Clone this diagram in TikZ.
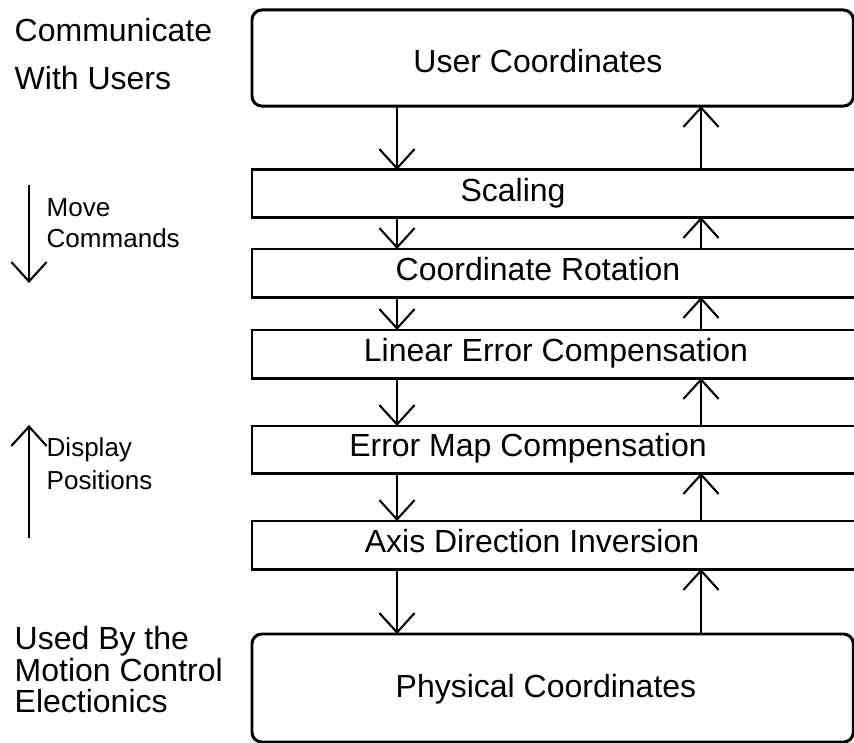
\documentclass[tikz,border=0pt]{standalone}
\usepackage{fontspec}
\setmainfont{Liberation Sans}
\usetikzlibrary{positioning,arrows.meta}

\begin{document}
\begin{tikzpicture}[x=0.01cm, y=-0.01cm,
    stage/.style={draw, line width=0.85pt, inner sep=0pt, outer sep=0pt,
                  anchor=north west, minimum width=6.06cm},
    endstage/.style={stage, rounded corners=2.8pt, minimum width=6.01cm},
    flow/.style={line width=0.6pt, -{Straight Barb[length=5.5pt, width=10pt]}},
    boxtext/.style={font=\fontsize{9.1}{11}\selectfont, inner sep=0pt, anchor=base},
    sidetext/.style={boxtext, anchor=base west},
    notetext/.style={sidetext, font=\fontsize{7.4}{9}\selectfont}]
  \useasboundingbox (0,0) rectangle (854,743);

  % transformation stages, top to bottom
  \node[endstage, minimum height=0.96cm] (user) at (252,10) {};
  \node[stage, minimum height=0.47cm] (scaling) at (252,170) {};
  \node[stage, minimum height=0.48cm] (rotation) at (252,249) {};
  \node[stage, minimum height=0.48cm] (linear) at (252,330) {};
  \node[stage, minimum height=0.47cm] (errmap) at (252,426) {};
  \node[stage, minimum height=0.48cm] (axisdir) at (252,521) {};
  \node[endstage, minimum height=1.08cm] (physical) at (252,634) {};

  \node[boxtext] (usertxt) at (538,73) {User Coordinates};
  \node[boxtext] (scalingtxt) at (513,202) {Scaling};
  \node[boxtext] (rotationtxt) at (538,281) {Coordinate Rotation};
  \node[boxtext] (lineartxt) at (556,362) {Linear Error Compensation};
  \node[boxtext] (errmaptxt) at (528,457) {Error Map Compensation};
  \node[boxtext] (axisdirtxt) at (532,553) {Axis Direction Inversion};
  \node[boxtext] (physicaltxt) at (546,698) {Physical Coordinates};

  % down and up flows between stages
  \coordinate (dn) at (397,0);
  \coordinate (up) at (701,0);
  \foreach \a/\b in {user/scaling, scaling/rotation, rotation/linear,
                     linear/errmap, errmap/axisdir, axisdir/physical} {
    \draw[flow] (\a.south -| dn) -- (\b.north -| dn);
    \draw[flow] (\b.north -| up) -- (\a.south -| up);
  }

  % side notes
  \node[sidetext] (comm1) at (14,42) {Communicate};
  \node[sidetext] (comm2) at (14,90) {With Users};
  \node[sidetext] (used1) at (14,650) {Used By the};
  \node[sidetext] (used2) at (14,682) {Motion Control};
  \node[sidetext] (used3) at (14,713) {Electionics};

  \coordinate (movetop) at (29,185);
  \coordinate (movebot) at (29,283);
  \draw[flow] (movetop) -- (movebot);
  \node[notetext] (move1) at (46,217) {Move};
  \node[notetext] (move2) at (46,248) {Commands};

  \coordinate (disptop) at (29,425);
  \coordinate (dispbot) at (29,538);
  \draw[flow] (dispbot) -- (disptop);
  \node[notetext] (disp1) at (46,457) {Display};
  \node[notetext] (disp2) at (46,490) {Positions};
\end{tikzpicture}
\end{document}
